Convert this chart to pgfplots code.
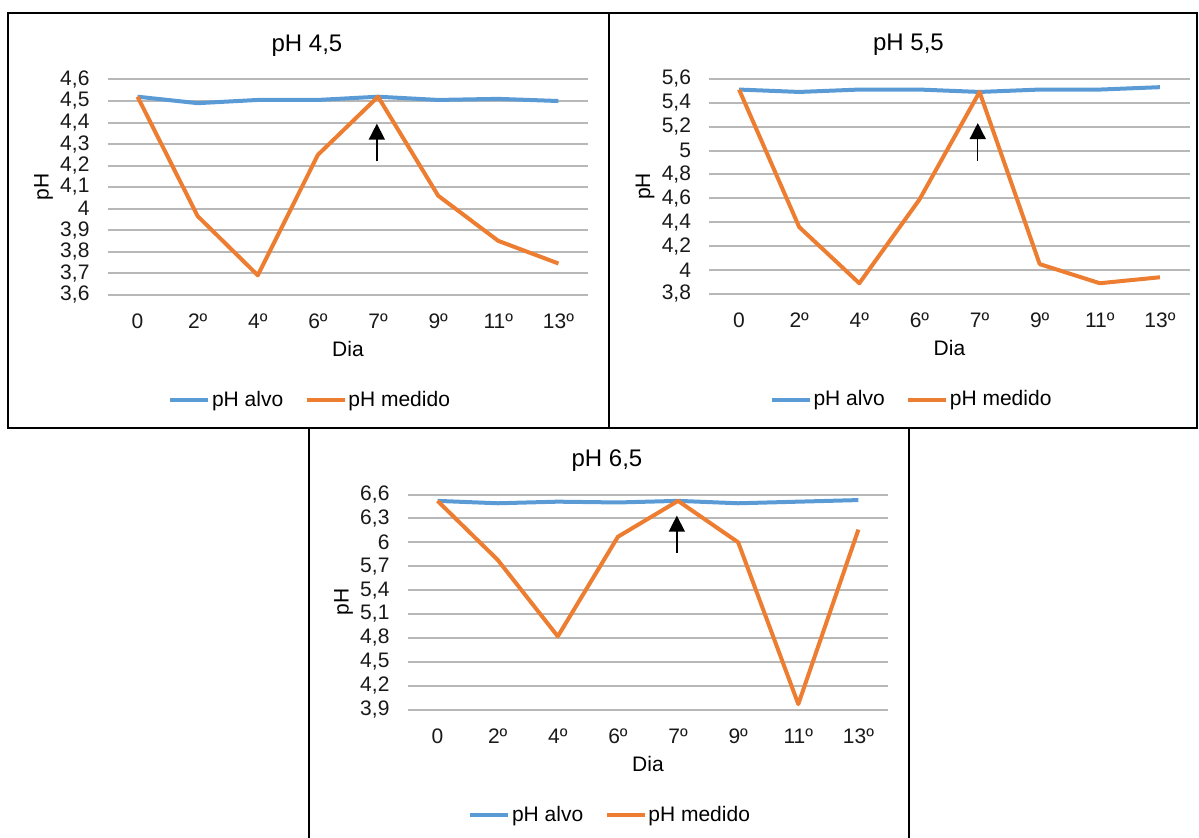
\documentclass[border=0pt]{standalone}
\usepackage{fontspec}
\setmainfont{Liberation Sans}
\usepackage{pgfplots}
\pgfplotsset{compat=1.18}
\usetikzlibrary{arrows.meta}
\definecolor{alvo}{HTML}{5B9BD5}
\definecolor{medido}{HTML}{ED7D31}
\pgfplotsset{
  phstyle/.style={
    scale only axis, width=240.5pt, height=107.6pt,
    xmin=-0.5, xmax=7.5,
    xtick={0,1,2,3,4,5,6,7}, xticklabels={0,2º,4º,6º,7º,9º,11º,13º},
    axis line style={draw=none}, tick style={draw=none},
    ymajorgrids, grid style={color=black!28, line width=1pt},
    /pgf/number format/assume math mode=true,
    ticklabel style={font=\fontsize{10.5}{12}\selectfont, text=black!90},
    xticklabel style={yshift=-6pt},
    yticklabel style={xshift=-5.5pt, /pgf/number format/.cd, use comma, fixed, precision=1},
    title style={font=\fontsize{12}{14}\selectfont, at={(axis description cs:0.5,1)}, anchor=center, yshift=11pt, xshift=-20.5pt},
    xlabel style={font=\fontsize{10.5}{12}\selectfont, at={(axis description cs:0.5,0)}, anchor=center, yshift=-27.2pt},
    ylabel style={font=\fontsize{10.5}{12}\selectfont, at={(axis description cs:0,0.5)}, anchor=center, yshift=32pt},
    xlabel={Dia}, ylabel={pH},
    legend style={draw=none, fill=none, legend columns=2, at={(axis description cs:0.5,0)}, anchor=center, xshift=-19pt, yshift=-52.8pt, font=\fontsize{10.5}{12}\selectfont, nodes={inner sep=0.8pt}, /tikz/every even column/.append style={column sep=10pt}},
    legend image code/.code={\draw[#1] (0pt,0pt) -- (19pt,0pt);},
    every axis plot/.append style={line width=2pt, line join=round, mark=none},
  }
}
\begin{document}
\begin{tikzpicture}
\useasboundingbox (0,0) rectangle (599.5pt,-419pt);
\draw[line width=1pt] (4pt,-6.5pt) rectangle (304.5pt,-214pt);
\draw[line width=1pt] (304.5pt,-6.5pt) rectangle (598.5pt,-214pt);
\draw[line width=1pt] (154.5pt,-214pt) -- (154.5pt,-419pt);
\draw[line width=1pt] (454.5pt,-214pt) -- (454.5pt,-419pt);

\begin{axis}[phstyle, at={(53.75pt,-147.35pt)}, anchor=south west,
  title={pH 4,5}, ymin=3.6, ymax=4.6,
  ytick={3.6,3.7,3.8,3.9,4.0,4.1,4.2,4.3,4.4,4.5,4.6}]
\addplot[alvo] coordinates {(0,4.52) (1,4.49) (2,4.505) (3,4.505) (4,4.52) (5,4.505) (6,4.51) (7,4.50)};
\addplot[medido] coordinates {(0,4.52) (1,3.965) (2,3.69) (3,4.25) (4,4.52) (5,4.06) (6,3.85) (7,3.745)};
\legend{pH alvo, pH medido}
\draw[line width=0.7pt, -{Triangle[width=8pt,length=8pt]}] (axis cs:3.98,4.22) -- (axis cs:3.98,4.395);
\end{axis}

\begin{axis}[phstyle, at={(354.5pt,-147pt)}, anchor=south west,
  title={pH 5,5}, ymin=3.8, ymax=5.6,
  ytick={3.8,4.0,4.2,4.4,4.6,4.8,5.0,5.2,5.4,5.6}]
\addplot[alvo] coordinates {(0,5.51) (1,5.49) (2,5.51) (3,5.51) (4,5.49) (5,5.51) (6,5.51) (7,5.53)};
\addplot[medido] coordinates {(0,5.51) (1,4.36) (2,3.89) (3,4.59) (4,5.49) (5,4.05) (6,3.89) (7,3.94)};
\legend{pH alvo, pH medido}
\draw[line width=0.7pt, -{Triangle[width=8pt,length=8pt]}] (axis cs:3.97,4.915) -- (axis cs:3.97,5.23);
\end{axis}

\begin{axis}[phstyle, at={(203.75pt,-354.85pt)}, anchor=south west,
  title={pH 6,5}, ymin=3.9, ymax=6.6,
  ytick={3.9,4.2,4.5,4.8,5.1,5.4,5.7,6.0,6.3,6.6}]
\addplot[alvo] coordinates {(0,6.52) (1,6.49) (2,6.51) (3,6.50) (4,6.52) (5,6.49) (6,6.51) (7,6.53)};
\addplot[medido] coordinates {(0,6.52) (1,5.78) (2,4.82) (3,6.07) (4,6.52) (5,6.00) (6,3.97) (7,6.16)};
\legend{pH alvo, pH medido}
\draw[line width=0.7pt, -{Triangle[width=8pt,length=8pt]}] (axis cs:3.98,5.87) -- (axis cs:3.98,6.335);
\end{axis}
\end{tikzpicture}
\end{document}
